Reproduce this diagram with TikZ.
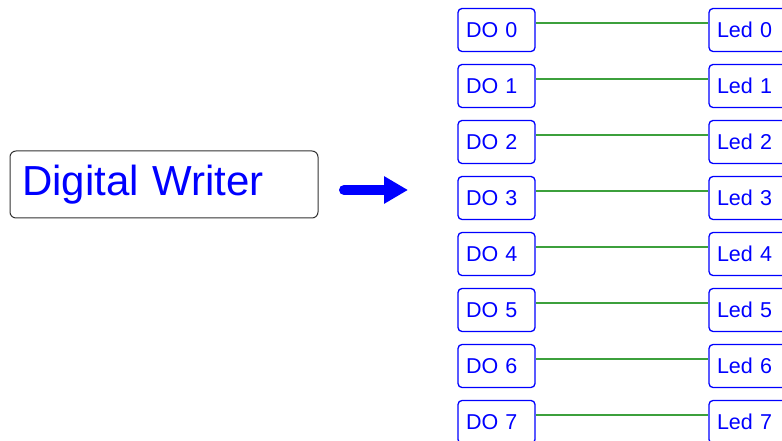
\documentclass[tikz,border=0pt]{standalone}
\usepackage{fontspec}
\setmainfont{Liberation Sans}
\usetikzlibrary{arrows.meta,calc}
\definecolor{pblue}{RGB}{0,0,255}
\definecolor{lgreen}{RGB}{60,160,60}
\begin{document}
\begin{tikzpicture}[x=1pt,y=1pt,
  iobox/.style={draw=pblue,line width=1.3pt,rounded corners=4pt,
    minimum height=43pt,inner xsep=8pt,text width=61pt,align=left,
    text=pblue,font=\fontsize{21.5}{24}\selectfont},
  mainbox/.style={draw=black!80,line width=1pt,rounded corners=6pt,
    minimum height=67pt,inner xsep=12pt,text width=284pt,align=left,
    text=pblue,font=\fontsize{42}{48}\selectfont},
  wire/.style={draw=lgreen,line width=1.3pt}]
\useasboundingbox (0,0) rectangle (782,441);
\clip (0,0) rectangle (782,441);
\node[mainbox] (dw) at (164,256.5) {Digital Writer};
\coordinate (as) at (344,251);
\coordinate (ae) at (408,251);
\draw[pblue,line width=10pt,line cap=round,-{Triangle[length=24pt,width=26pt]}] (as) -- (ae);
\foreach \k in {0,...,7}{
  \node[iobox] (do\k) at (496.5,{411-56*\k}) {DO \k};
  \node[iobox] (led\k) at (747.5,{411-56*\k}) {Led \k};
  \draw[wire] ([yshift=7pt]do\k.east) -- ([yshift=7pt]led\k.west);
}
\end{tikzpicture}
\end{document}
